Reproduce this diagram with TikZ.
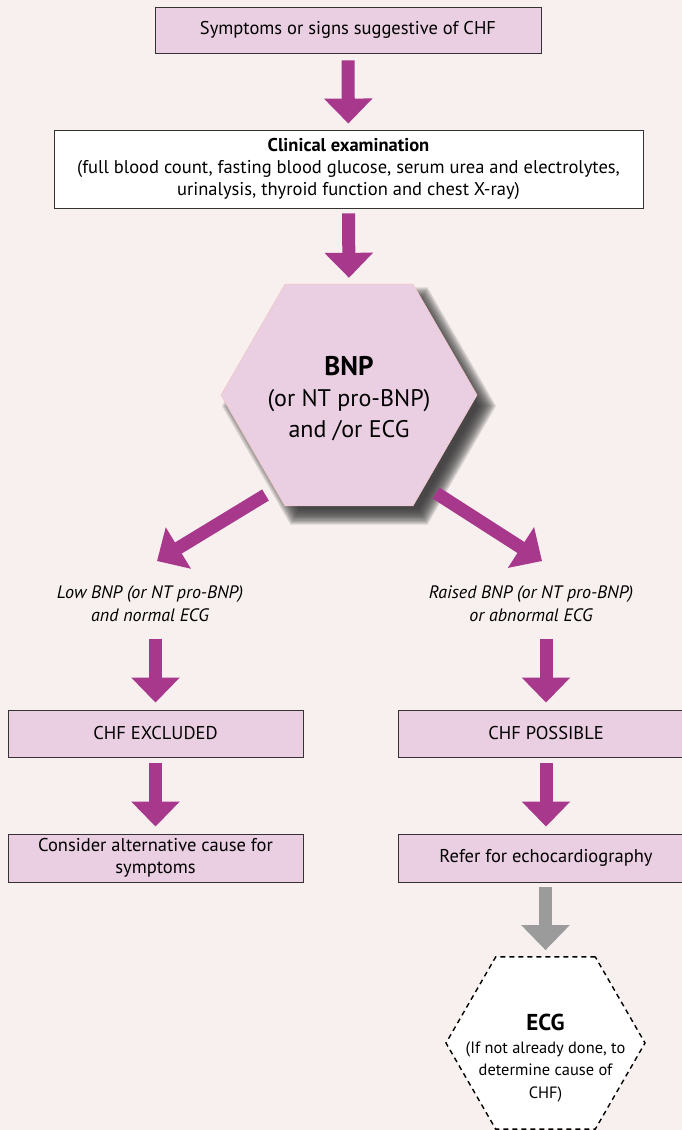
\documentclass[tikz,border=0pt]{standalone}
\usepackage{fontspec}
\setmainfont{PT Sans}
\usetikzlibrary{arrows.meta,shapes.geometric,calc}
\definecolor{bgc}{HTML}{F7F0EE}
\definecolor{boxc}{HTML}{EACEE2}
\definecolor{arrowc}{HTML}{A8388B}
\definecolor{grayarrow}{HTML}{9B9B9B}
\definecolor{edgec}{HTML}{333333}
\definecolor{hexedge}{HTML}{F2C8C8}
\definecolor{shadowc}{HTML}{333333}
\tikzset{
  pinkbox/.style={draw=edgec, line width=0.9pt, fill=boxc, inner sep=0pt, align=center, font=\fontsize{18.5}{22}\selectfont},
  bigarrow/.style={draw=arrowc, line width=13pt, -{Triangle[width=47pt,length=25pt]}},
  grayarrowst/.style={draw=grayarrow, line width=13pt, -{Triangle[width=47pt,length=25pt]}},
  lbl/.style={align=center, inner sep=0pt, font=\itshape\fontsize{18}{23}\selectfont},
  hexshape/.style={regular polygon, regular polygon sides=6, inner sep=0pt},
}
\begin{document}
\begin{tikzpicture}[x=1pt,y=-1pt]
\useasboundingbox (0,0) rectangle (682,1130);
\fill[bgc] (0,0) rectangle (682,1130);
% soft shadow of the hexagon
\foreach \r in {238,241,...,274} {
  \node[hexshape, minimum size=\r pt, fill=shadowc, fill opacity=0.15] at (359,406) {};
}
% nodes
\node[pinkbox, minimum width=386pt, minimum height=46pt] (top) at (348,30) {Symptoms or signs suggestive of CHF};
\node[pinkbox, fill=white, minimum width=589pt, minimum height=78pt] (clin) at (348.5,169)
  {\textbf{Clinical examination}\\(full blood count, fasting blood glucose, serum urea and electrolytes,\\urinalysis, thyroid function and chest X-ray)};
\node[hexshape, minimum size=256pt, fill=boxc, draw=hexedge, line width=0.6pt] (bnp) at (349,395) {};
\node[align=center, inner sep=0pt, font=\fontsize{24}{31}\selectfont] (bnptext) at ([yshift=-4pt]bnp.center)
  {\textbf{\fontsize{27}{31}\selectfont BNP}\\(or NT pro-BNP)\\and /or ECG};
\node[lbl] (lowlbl) at (150,604) {Low BNP (or NT pro-BNP)\\and normal ECG};
\node[lbl] (raisedlbl) at (531,604) {Raised BNP (or NT pro-BNP)\\or abnormal ECG};
\node[pinkbox, minimum width=295pt, minimum height=47pt] (excl) at (155.5,733.5) {CHF EXCLUDED};
\node[pinkbox, minimum width=296pt, minimum height=47pt] (poss) at (546,733.5) {CHF POSSIBLE};
\node[pinkbox, minimum width=295pt, minimum height=48pt] (alt) at (155.5,858) {Consider alternative cause for\\symptoms};
\node[pinkbox, minimum width=296pt, minimum height=48pt] (echo) at (546,858) {Refer for echocardiography};
\node[hexshape, minimum size=199pt, fill=white, draw=black, line width=1.4pt,
  dash pattern=on 5pt off 4pt] (ecg) at (545.5,1043) {};
\node[align=center, inner sep=0pt, font=\fontsize{16.4}{22.5}\selectfont] (ecgtext) at (545.5,1058)
  {\textbf{\fontsize{23}{26}\selectfont ECG}\\(If not already done, to\\determine cause of\\CHF)};
% connectors
\draw[bigarrow, shorten <=7pt, shorten >=6pt] (top) -- (clin);
\draw[bigarrow, shorten <=5pt, shorten >=6pt] (clin.south) -- (bnp.north);
\draw[bigarrow] ([shift={(-83.5,100)}]bnp.center) -- ([shift={(7,-43)}]lowlbl.center);
\draw[bigarrow] ([shift={(87,98)}]bnp.center) -- ([shift={(11,-43)}]raisedlbl.center);
\draw[bigarrow, shorten >=7pt] ([yshift=71pt]excl.north) -- (excl.north);
\draw[bigarrow, shorten >=7pt] ([yshift=71pt]poss.north) -- (poss.north);
\draw[bigarrow, shorten <=6pt, shorten >=7pt] (excl) -- (alt);
\draw[bigarrow, shorten <=6pt, shorten >=7pt] (poss) -- (echo);
\draw[grayarrowst, shorten <=5pt, shorten >=6pt] (echo.south -| ecg.north) -- (ecg.north);
\end{tikzpicture}
\end{document}
